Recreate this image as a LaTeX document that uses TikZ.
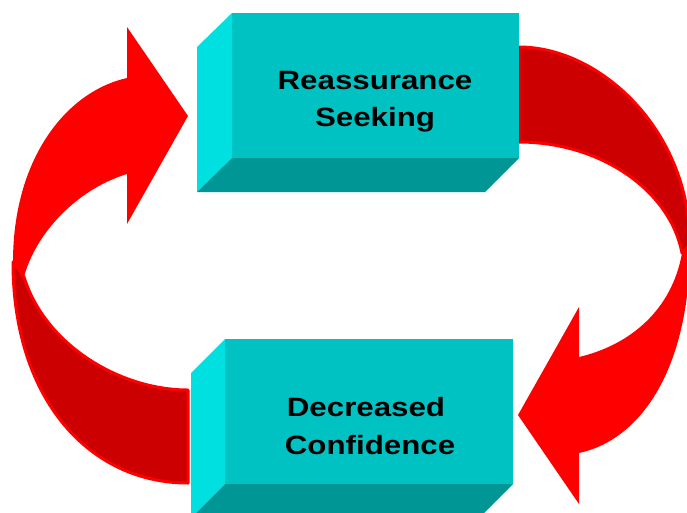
\documentclass[tikz,border=0pt]{standalone}
\usepackage{fontspec}
\setmainfont{Liberation Sans}
\definecolor{frontcyan}{RGB}{0,194,194}
\definecolor{sidecyan}{RGB}{0,224,224}
\definecolor{bottomcyan}{RGB}{0,150,150}
\definecolor{brightred}{RGB}{255,0,0}
\definecolor{darkred}{RGB}{204,0,0}
\tikzset{
  lbl/.style={inner sep=0pt, anchor=base, xscale=1.18,
    font=\fontsize{26.5}{37}\selectfont\bfseries, text=black},
  frontface/.style={fill=frontcyan},
  sideface/.style={fill=sidecyan},
  bottomface/.style={fill=bottomcyan},
  arrowfront/.style={fill=brightred},
  arrowback/.style={fill=darkred, draw=brightred, line width=3pt, line join=round},
}
\begin{document}
\begin{tikzpicture}[x=1pt,y=-1pt]
\useasboundingbox (0,0) rectangle (687,512);
\clip (0,0) rectangle (687,512);
% left arrow
\fill[arrowfront] (13,262) .. controls (13,160) and (65,92) .. (127,78) -- (127,27) -- (188,116) -- (127,224) -- (127,174) .. controls (75,190) and (35,235) .. (24,277) -- cycle;
\filldraw[arrowback] (13,262) .. controls (13,400) and (90,483) .. (188,483) -- (188,390) .. controls (120,390) and (45,345) .. (24,277) -- cycle;
% right arrow
\fill[arrowfront] (690,245) .. controls (690,370) and (640,440) .. (579,453) -- (579,504) -- (518,415) -- (579,307) -- (579,357) .. controls (630,345) and (672,310) .. (682,253) -- cycle;
\filldraw[arrowback] (519,47) .. controls (600,47) and (690,130) .. (690,245) -- (682,253) .. controls (670,190) and (600,142) .. (519,142) -- cycle;
% top box
\fill[frontface] (232,13) rectangle (519,158);
\fill[sideface] (232,13) -- (197,47) -- (197,192) -- (232,158) -- cycle;
\fill[bottomface] (232,158) -- (519,158) -- (485,192) -- (197,192) -- cycle;
% bottom box
\fill[frontface] (225,339) rectangle (513,484);
\fill[sideface] (225,339) -- (191,373) -- (191,518) -- (225,484) -- cycle;
\fill[bottomface] (225,484) -- (513,484) -- (479,518) -- (191,518) -- cycle;
% labels
\node[lbl] (rs1) at (375,89) {Reassurance};
\node[lbl] (rs2) at (375,126) {Seeking};
\node[lbl] (dc1) at (366,416) {Decreased};
\node[lbl] (dc2) at (370,454) {Confidence};
\end{tikzpicture}
\end{document}
